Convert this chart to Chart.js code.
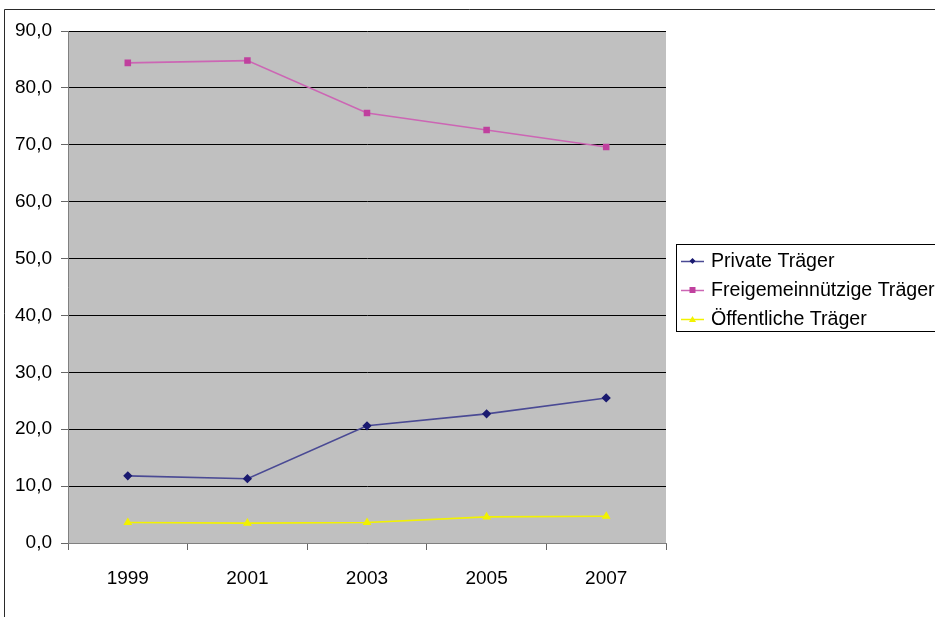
<!DOCTYPE html>
<html>
<head>
<meta charset="utf-8">
<script src="https://cdn.jsdelivr.net/npm/chart.js@4/dist/chart.umd.min.js"></script>
<style>
  html, body { margin: 0; padding: 0; background: #ffffff; }
  #wrap { width: 935px; height: 617px; position: relative; }
</style>
</head>
<body>
<div id="wrap"><canvas id="c" width="935" height="617"></canvas></div>
<script>
// Anteile nach Trägerschaft (in %)
const years = ['1999', '2001', '2003', '2005', '2007'];
const privateTraeger = [11.8, 11.3, 20.6, 22.7, 25.5];
const freigemeinnuetzigeTraeger = [84.4, 84.8, 75.6, 72.6, 69.6];
const oeffentlicheTraeger = [3.6, 3.5, 3.6, 4.6, 4.7];
const yTicks = [0, 10, 20, 30, 40, 50, 60, 70, 80, 90];

const FONT = 'Liberation Sans, Arial, sans-serif';
const FONT_SIZE = 19;
const LEGEND_FONT_SIZE = 19.6;

// grey plot background, outer frame and the boxed legend
const decor = {
  id: 'decor',
  beforeDraw(chart) {
    const { ctx, chartArea: a } = chart;
    ctx.save();
    ctx.fillStyle = '#ffffff';
    ctx.fillRect(0, 0, chart.width, chart.height);
    ctx.strokeStyle = '#2a2a2a';
    ctx.lineWidth = 1;
    ctx.beginPath();
    ctx.moveTo(4.5, chart.height);
    ctx.lineTo(4.5, 9.5);
    ctx.lineTo(chart.width, 9.5);
    ctx.stroke();
    ctx.fillStyle = '#c0c0c0';
    ctx.fillRect(a.left, a.top, a.right - a.left, a.bottom - a.top);
    ctx.restore();
  },
  afterDraw(chart) {
    const { ctx } = chart;
    ctx.save();
    ctx.strokeStyle = '#000000';
    ctx.lineWidth = 1;
    ctx.strokeRect(676.5, 244.5, 300, 87);
    ctx.font = LEGEND_FONT_SIZE + 'px ' + FONT;
    ctx.textBaseline = 'middle';
    ctx.fillStyle = '#000000';
    const rows = [261, 290, 319];
    chart.data.datasets.forEach((ds, i) => {
      const y = rows[i];
      ctx.strokeStyle = ds.borderColor;
      ctx.lineWidth = 1.5;
      ctx.beginPath();
      ctx.moveTo(681, y + 0.5);
      ctx.lineTo(704, y + 0.5);
      ctx.stroke();
      ctx.fillStyle = ds.pointBackgroundColor;
      const x = 692.5;
      ctx.beginPath();
      if (ds.pointStyle === 'rectRot') {
        ctx.moveTo(x, y - 3); ctx.lineTo(x + 3, y); ctx.lineTo(x, y + 3); ctx.lineTo(x - 3, y);
      } else if (ds.pointStyle === 'rect') {
        ctx.rect(x - 3, y - 3, 6, 6);
      } else {
        ctx.moveTo(x, y - 3); ctx.lineTo(x + 3.5, y + 3); ctx.lineTo(x - 3.5, y + 3);
      }
      ctx.closePath();
      ctx.fill();
      ctx.fillStyle = '#000000';
      ctx.fillText(ds.label, 711, y + 1);
    });
    ctx.restore();
  }
};

new Chart(document.getElementById('c'), {
  type: 'line',
  data: {
    labels: years,
    datasets: [
      {
        label: 'Private Träger',
        data: privateTraeger,
        borderColor: '#4a4a94',
        backgroundColor: '#1a1a70',
        pointBackgroundColor: '#1a1a70',
        pointBorderColor: '#1a1a70',
        pointStyle: 'rectRot',
        pointRadius: 3.5,
        borderWidth: 1.6,
        tension: 0
      },
      {
        label: 'Freigemeinnützige Träger',
        data: freigemeinnuetzigeTraeger,
        borderColor: '#cc66b4',
        backgroundColor: '#c0409e',
        pointBackgroundColor: '#c0409e',
        pointBorderColor: '#c0409e',
        pointStyle: 'rect',
        pointRadius: 3.5,
        borderWidth: 1.6,
        tension: 0
      },
      {
        label: 'Öffentliche Träger',
        data: oeffentlicheTraeger,
        borderColor: '#f2f200',
        backgroundColor: '#f2f200',
        pointBackgroundColor: '#f2f200',
        pointBorderColor: '#f2f200',
        pointStyle: 'triangle',
        pointRadius: 3.5,
        borderWidth: 1.6,
        tension: 0
      }
    ]
  },
  options: {
    responsive: false,
    animation: false,
    devicePixelRatio: 1,
    layout: { padding: { left: 0, right: 269, top: 31, bottom: 0 } },
    plugins: {
      legend: { display: false },
      tooltip: { enabled: false }
    },
    scales: {
      x: {
        offset: true,
        grid: {
          offset: true,
          drawOnChartArea: false,
          drawTicks: true,
          tickLength: 7,
          tickColor: '#666666'
        },
        border: { color: '#808080', width: 1 },
        ticks: {
          color: '#000000',
          font: { family: FONT, size: FONT_SIZE },
          padding: 17,
          maxRotation: 0
        },
        afterFit(s) { s.height = 74; }
      },
      y: {
        min: 0,
        max: 90,
        afterBuildTicks(s) { s.ticks = yTicks.map(v => ({ value: v })); },
        grid: {
          color: '#000000',
          lineWidth: 1,
          tickLength: 7,
          tickColor: '#666666'
        },
        border: { color: '#808080', width: 1 },
        ticks: {
          color: '#000000',
          font: { family: FONT, size: FONT_SIZE },
          padding: 9,
          callback: v => v.toFixed(1).replace('.', ',')
        },
        afterFit(s) { s.width = 68; }
      }
    }
  },
  plugins: [decor]
});
</script>
</body>
</html>
